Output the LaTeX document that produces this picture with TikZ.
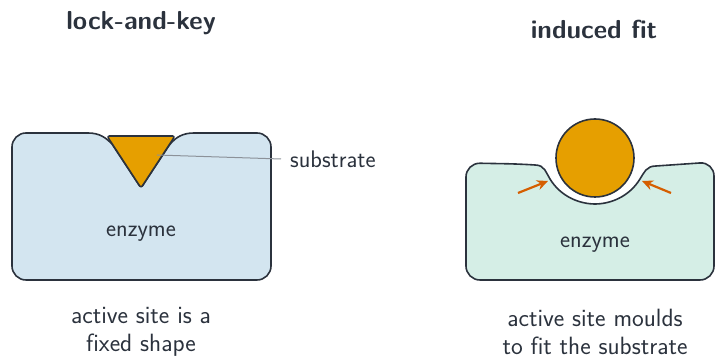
\documentclass[tikz,border=0pt]{standalone}
\usepackage{fontspec}
\usetikzlibrary{calc, arrows.meta}
\definecolor{ink}{HTML}{2B323D}
\definecolor{lockblue}{HTML}{D3E5F0}
\definecolor{fitgreen}{HTML}{D5EEE6}
\definecolor{subst}{HTML}{E69F00}
\definecolor{push}{HTML}{D55E00}
\definecolor{leader}{HTML}{8C9299}
\newcommand{\nofi}{f\kern0pt i}

\begin{document}
\begin{tikzpicture}[x=1pt,y=1pt,
    outline/.style={draw=ink,line width=1.6pt,line join=round},
    label/.style={text=ink,font=\sffamily\fontsize{24}{28}\selectfont,inner sep=0pt},
    caption/.style={text=ink,font=\sffamily\fontsize{25}{28}\selectfont,align=center,inner sep=0pt},
    title/.style={text=ink,font=\sffamily\fontsize{26}{30}\selectfont\bfseries,inner sep=0pt},
    squeeze/.style={draw=push,line width=2.2pt,-{Stealth[length=11pt,width=10pt]}}]
    \useasboundingbox (0,0) rectangle (716,358);
    % lock-and-key
    \draw[outline,fill=lockblue,rounded corners=14pt] (12,150)--(12,225)--(70,225)
        [rounded corners=0pt]--(88,225) .. controls (100,225) and (106,220) .. (112,214)
        [rounded corners=3pt]--(141,170)--(170,214)
        [rounded corners=0pt] .. controls (176,220) and (182,225) .. (194,225)
        [rounded corners=14pt]--(271,225)--(271,78)--(12,78)--cycle;
    \draw[outline,fill=subst,rounded corners=2.5pt] (107,222)--(175,222)--(141,170)--cycle;
    \node[label] (enzL) at (141,124.5) {enzyme};
    \coordinate (site) at (157,203);
    \node[label,anchor=west] (subL) at (290,199) {substrate};
    \draw[leader,line width=1pt] (site)--([xshift=-9pt]subL.west);
    \node[title] (lock) at (141,335) {lock-and-key};
    \node[caption] (capL) at (141,26) {active site is a\\\nofi xed shape};
    % induced fit
    \draw[outline,fill=fitgreen,rounded corners=14pt] (466,150)--(466,195)--(520,194)
        [rounded corners=0pt]--(535,193) .. controls (545,193) and (546,185) .. (550,179)
        .. controls (561,161) and (580,154) .. (595,154)
        .. controls (610,154) and (629,161) .. (640,179)
        .. controls (644,185) and (646,192) .. (656,192)
        [rounded corners=14pt]--(714,196)--(714,78)--(466,78)--cycle;
    \node[outline,fill=subst,circle,minimum size=78pt,inner sep=0pt] (ball) at (595,200) {};
    \node[label] (enzR) at (595,113) {enzyme};
    \coordinate (pL0) at (518,165);
    \coordinate (pL1) at (548,177);
    \coordinate (pR0) at (671,165);
    \coordinate (pR1) at (642,177);
    \draw[squeeze] (pL0)--(pL1);
    \draw[squeeze] (pR0)--(pR1);
    \node[title] (fit) at (594,329) {induced \nofi t};
    \node[caption] (capR) at (595,26) {active site moulds\\to \nofi t the substrate};
\end{tikzpicture}
\end{document}
